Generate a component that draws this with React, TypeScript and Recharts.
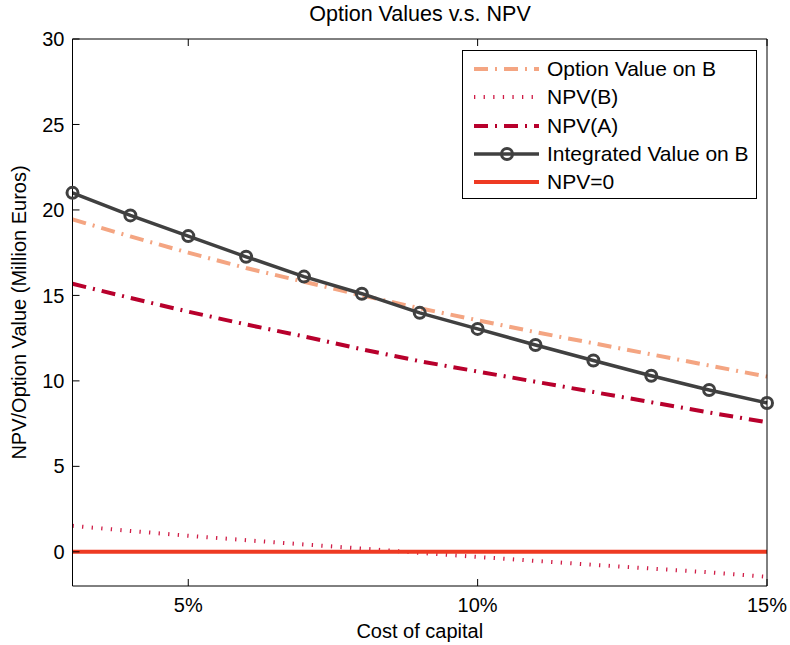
import React from "react";
import { LineChart, Line, XAxis, YAxis } from "recharts";

// cost of capital (%)
const rates = [3, 4, 5, 6, 7, 8, 9, 10, 11, 12, 13, 14, 15];
const optionValueB = [19.45, 18.45, 17.5, 16.6, 15.8, 15.0, 14.25, 13.55, 12.85, 12.2, 11.55, 10.9, 10.25];
const npvB = [1.52, 1.22, 0.94, 0.68, 0.43, 0.19, -0.06, -0.3, -0.53, -0.76, -0.98, -1.2, -1.46];
const npvA = [15.68, 14.85, 14.05, 13.3, 12.6, 11.85, 11.15, 10.55, 9.95, 9.35, 8.75, 8.15, 7.58];
const integratedB = [21.0, 19.68, 18.47, 17.26, 16.1, 15.1, 13.98, 13.04, 12.1, 11.19, 10.3, 9.47, 8.71];
const npvZero = [0, 0, 0, 0, 0, 0, 0, 0, 0, 0, 0, 0, 0];

const xTicks = [5, 10, 15];
const yTicks = [0, 5, 10, 15, 20, 25, 30];

const data = rates.map((r, i) => ({
  rate: r,
  option: optionValueB[i],
  npvB: npvB[i],
  npvA: npvA[i],
  integrated: integratedB[i],
  zero: npvZero[i],
}));

const FONT = "'Liberation Sans', Arial, Helvetica, sans-serif";

const legendItems = [
  { label: "Option Value on B", color: "#f4a582", width: 4, dash: "14 7 2 7", marker: false },
  { label: "NPV(B)", color: "#d01c46", width: 4, dash: "1.3 8.3", marker: false },
  { label: "NPV(A)", color: "#b8002c", width: 4, dash: "14 7 2 7", marker: false },
  { label: "Integrated Value on B", color: "#404040", width: 3.5, dash: undefined, marker: true },
  { label: "NPV=0", color: "#ee3a22", width: 4, dash: undefined, marker: false },
];

const noTick = () => <g />;

function LegendBox() {
  return (
    <div
      style={{
        position: "absolute",
        left: 462,
        top: 50,
        width: 295,
        height: 149,
        border: "1px solid #000",
        background: "#fff",
        boxSizing: "border-box",
        paddingTop: 4,
        fontFamily: FONT,
        fontSize: 21,
      }}
    >
      {legendItems.map((it) => (
        <div key={it.label} style={{ display: "flex", alignItems: "center", height: 28.3 }}>
          <svg width={84} height={20} style={{ flex: "none" }}>
            <line
              x1={11}
              x2={76}
              y1={10}
              y2={10}
              stroke={it.color}
              strokeWidth={it.width}
              strokeDasharray={it.dash}
            />
            {it.marker && (
              <circle cx={44} cy={10} r={5.5} fill="none" stroke={it.color} strokeWidth={3} />
            )}
          </svg>
          <span style={{ color: "#000", whiteSpace: "nowrap" }}>{it.label}</span>
        </div>
      ))}
    </div>
  );
}

export default function App() {
  return (
    <div style={{ position: "absolute", left: 0, top: 0, width: 790, height: 645, background: "#fff" }}>
      <div
        style={{
          position: "absolute",
          left: 0,
          width: 840,
          top: 2,
          textAlign: "center",
          fontFamily: FONT,
          fontSize: 21.5,
          color: "#000",
        }}
      >
        Option Values v.s. NPV
      </div>
      <LineChart
        width={790}
        height={645}
        data={data}
        margin={{ top: 38, right: 22, left: 0, bottom: 0 }}
        style={{ fontFamily: FONT }}
      >
        <XAxis
          dataKey="rate"
          type="number"
          domain={[3, 15]}
          ticks={xTicks}
          tickFormatter={(v) => `${v}%`}
          height={59}
          tickSize={-7}
          tickMargin={19}
          stroke="#000"
          tick={{ fill: "#000", fontSize: 20 }}
          label={{ value: "Cost of capital", position: "insideBottom", offset: 7, fill: "#000", fontSize: 20 }}
        />
        <XAxis
          xAxisId="top"
          dataKey="rate"
          type="number"
          orientation="top"
          domain={[3, 15]}
          ticks={xTicks}
          height={1}
          tickSize={-7}
          tick={noTick}
          stroke="#000"
        />
        <YAxis
          type="number"
          domain={[-2, 30]}
          ticks={yTicks}
          width={72.5}
          tickSize={-7}
          tickMargin={15}
          stroke="#000"
          tick={{ fill: "#000", fontSize: 20 }}
          label={{
            value: "NPV/Option Value (Million Euros)",
            angle: -90,
            position: "center",
            dx: -17,
            fill: "#000",
            fontSize: 20,
          }}
        />
        <YAxis
          yAxisId="right"
          orientation="right"
          type="number"
          domain={[-2, 30]}
          ticks={yTicks}
          width={1}
          tickSize={-7}
          tick={noTick}
          stroke="#000"
        />
        <Line
          dataKey="option"
          stroke="#f4a582"
          strokeWidth={4}
          strokeDasharray="14 7 2 7"
          dot={false}
          isAnimationActive={false}
        />
        <Line
          dataKey="npvB"
          stroke="#d01c46"
          strokeWidth={4}
          strokeDasharray="1.3 8.3"
          dot={false}
          isAnimationActive={false}
        />
        <Line
          dataKey="npvA"
          stroke="#b8002c"
          strokeWidth={4}
          strokeDasharray="14 7 2 7"
          dot={false}
          isAnimationActive={false}
        />
        <Line
          dataKey="integrated"
          stroke="#404040"
          strokeWidth={3.5}
          dot={{ r: 5.5, stroke: "#404040", strokeWidth: 3, fill: "none" }}
          isAnimationActive={false}
        />
        <Line
          dataKey="zero"
          stroke="#ee3a22"
          strokeWidth={4}
          dot={false}
          isAnimationActive={false}
        />
      </LineChart>
      <LegendBox />
    </div>
  );
}
